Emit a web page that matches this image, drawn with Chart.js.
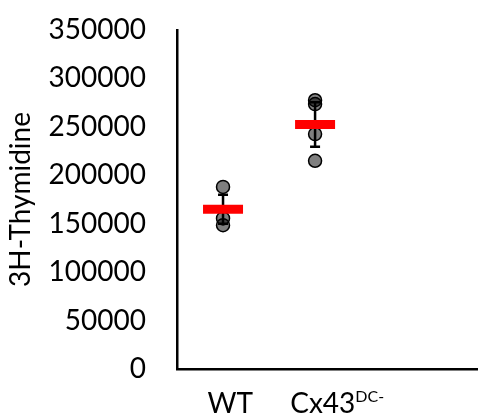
<!DOCTYPE html>
<html>
<head>
<meta charset="utf-8">
<script src="https://cdn.jsdelivr.net/npm/chart.js@4.4.1/dist/chart.umd.min.js"></script>
<style>
  body { margin: 0; background: #fff; }
  #wrap { width: 478px; height: 415px; position: relative; }
</style>
</head>
<body>
<div id="wrap"><canvas id="grafico"></canvas></div>
<script>
// DATOS
const categorias = ['WT', 'Cx43'];
const superindices = ['', 'DC-'];
const posEtiquetas = [1.08, 2.24];

const valoresWT = [188000, 155500, 148500];
const valoresCx43 = [277500, 273500, 242500, 215000];
const medias = [165000, 252500];
const errores = [15000, 23000];

const ticksY = [0, 50000, 100000, 150000, 200000, 250000, 300000, 350000];

const fuente = 'Lato, "Open Sans", sans-serif';

// puntos de cada grupo en x = 1, 2
const puntos = [];
[valoresWT, valoresCx43].forEach((vals, i) => {
    vals.forEach(v => puntos.push({ x: i + 1, y: v }));
});
const puntosMedia = medias.map((m, i) => ({ x: i + 1, y: m }));

// ----------------------------
// BARRAS DE ERROR
const barrasError = {
    id: 'barrasError',
    afterDatasetDraw(chart, args) {
        if (args.index !== 0) return;
        const ctx = chart.ctx;
        const xs = chart.scales.x, ys = chart.scales.y;
        ctx.save();
        ctx.strokeStyle = '#000';
        ctx.lineWidth = 2.5;
        medias.forEach((m, i) => {
            const x = xs.getPixelForValue(i + 1);
            const yTop = ys.getPixelForValue(m + errores[i]);
            const yBot = ys.getPixelForValue(m - errores[i]);
            ctx.beginPath();
            ctx.moveTo(x, yTop); ctx.lineTo(x, yBot);
            ctx.moveTo(x - 5, yTop); ctx.lineTo(x + 5, yTop);
            ctx.moveTo(x - 5, yBot); ctx.lineTo(x + 5, yBot);
            ctx.stroke();
        });
        ctx.restore();
    }
};

// ----------------------------
// ETIQUETAS EJE X
const etiquetasX = {
    id: 'etiquetasX',
    afterDraw(chart) {
        const ctx = chart.ctx;
        const xs = chart.scales.x;
        ctx.save();
        ctx.fillStyle = '#000';
        ctx.textBaseline = 'alphabetic';
        categorias.forEach((c, i) => {
            ctx.font = '28px ' + fuente;
            const w1 = ctx.measureText(c).width;
            ctx.font = '16px ' + fuente;
            const w2 = superindices[i] ? ctx.measureText(superindices[i]).width : 0;
            const x0 = xs.getPixelForValue(posEtiquetas[i]) - (w1 + w2) / 2;
            ctx.font = '28px ' + fuente;
            ctx.fillText(c, x0, 413);
            if (superindices[i]) {
                ctx.font = '16px ' + fuente;
                ctx.fillText(superindices[i], x0 + w1, 402);
            }
        });
        ctx.restore();
    }
};

const ctx = document.getElementById('grafico').getContext('2d');
new Chart(ctx, {
    type: 'scatter',
    data: {
        datasets: [
            {
                data: puntos,
                order: 2,
                pointRadius: 6.5,
                pointBackgroundColor: 'rgba(0,0,0,0.5)',
                pointBorderColor: '#000',
                pointBorderWidth: 1.5,
                clip: false
            },
            {
                data: puntosMedia,
                order: 1,
                pointStyle: 'line',
                pointRadius: 20,
                pointBorderColor: '#ff0000',
                pointBorderWidth: 9,
                clip: false
            }
        ]
    },
    options: {
        responsive: true,
        maintainAspectRatio: false,
        animation: false,
        devicePixelRatio: 1,
        layout: { autoPadding: false, padding: { top: 30, left: 0, right: 0, bottom: 0 } },
        plugins: { legend: { display: false }, tooltip: { enabled: false } },
        scales: {
            x: {
                type: 'linear',
                min: 0.5,
                max: 3.77,
                grid: { display: false, drawTicks: false },
                border: { color: '#000', width: 2.5 },
                ticks: { display: false },
                afterFit(scale) { scale.height = 46; }
            },
            y: {
                min: 0,
                max: 350000,
                afterBuildTicks(scale) { scale.ticks = ticksY.map(v => ({ value: v })); },
                // marcas invisibles para separar las etiquetas del eje
                grid: { display: true, color: 'transparent', drawOnChartArea: false, drawTicks: true, tickLength: 31 },
                border: { color: '#000', width: 2.5 },
                ticks: {
                    color: '#000', padding: 0, font: { family: fuente, size: 28 },
                    callback: v => String(v)
                },
                title: {
                    display: true,
                    text: '3H-Thymidine',
                    color: '#000',
                    font: { family: fuente, size: 28 },
                    padding: { top: 4, bottom: 0 }
                },
                afterFit(scale) { scale.width = 177; }
            }
        }
    },
    plugins: [barrasError, etiquetasX]
});
</script>
</body>
</html>
